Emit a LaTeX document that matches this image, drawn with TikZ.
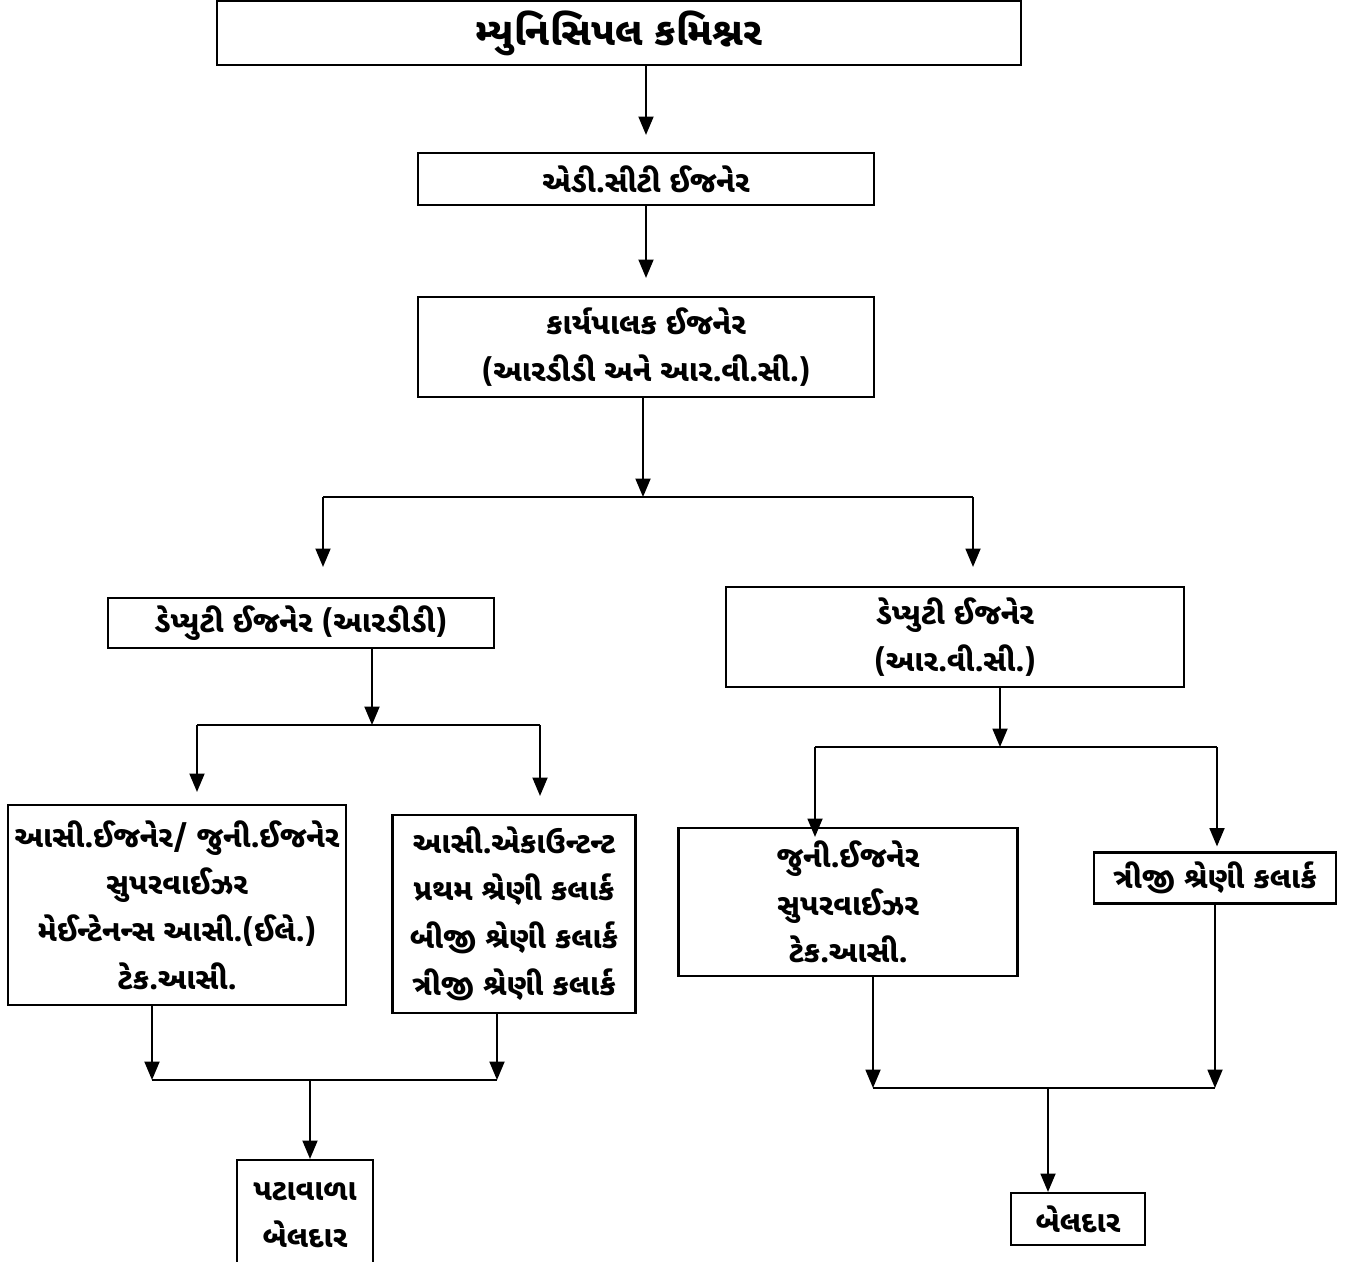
\documentclass[tikz,border=0pt]{standalone}
\usepackage{fontspec}
\setmainfont[Script=Gujarati]{Noto Sans Gujarati UI}
\usetikzlibrary{arrows.meta,positioning,calc}

\tikzset{
  box/.style={draw, line width=1.2pt, inner sep=0pt, align=center, font=\bfseries\fontsize{17}{27}\selectfont},
  arr/.style={line width=1.2pt, -{Triangle[length=10.5pt,width=8.5pt]}},
  ln/.style={line width=1.2pt},
}

\begin{document}
\begin{tikzpicture}[x=0.02cm, y=-0.02cm]
    \useasboundingbox (0,0) rectangle (1362,1261);
    \clip (0,0) rectangle (1362,1261);

    % boxes, placed at pixel coordinates of the chart
    \node[box, minimum width=16.08cm, minimum height=1.28cm, font=\bfseries\fontsize{22}{28}\selectfont] (mc) at (619,33) {મ્યુનિસિપલ કમિશ્નર};
    \node[box, minimum width=9.12cm, minimum height=1.04cm] (ace) at (646,179) {એડી.સીટી ઈજનેર};
    \node[box, minimum width=9.12cm, minimum height=2cm] (ee) at (646,347) {કાર્યપાલક ઈજનેર\\(આરડીડી અને આર.વી.સી.)};
    \node[box, minimum width=7.72cm, minimum height=1cm] (drdd) at (301,623) {ડેપ્યુટી ઈજનેર (આરડીડી)};
    \node[box, minimum width=9.16cm, minimum height=2cm] (drvc) at (955,637) {ડેપ્યુટી ઈજનેર\\(આર.વી.સી.)};
    \node[box, minimum width=6.76cm, minimum height=4cm] (aje) at (177,905) {આસી.ઈજનેર/ જુની.ઈજનેર\\સુપરવાઈઝર\\મેઈન્ટેનન્સ આસી.(ઈલે.)\\ટેક.આસી.};
    \node[box, minimum width=4.86cm, minimum height=3.96cm] (acc) at (514,914) {આસી.એકાઉન્ટન્ટ\\પ્રથમ શ્રેણી કલાર્ક\\બીજી શ્રેણી કલાર્ક\\ત્રીજી શ્રેણી કલાર્ક};
    \node[box, minimum width=2.72cm, minimum height=2.2cm] (pb) at (305,1215) {પટાવાળા\\બેલદાર};
    \node[box, minimum width=6.78cm, minimum height=2.96cm] (jes) at (848,902) {જુની.ઈજનેર\\સુપરવાઈઝર\\ટેક.આસી.};
    \node[box, minimum width=4.84cm, minimum height=1.02cm] (tsc) at (1215,878) {ત્રીજી શ્રેણી કલાર્ક};
    \node[box, minimum width=2.68cm, minimum height=1.04cm] (bel) at (1078,1219) {બેલદાર};

    % junctions of the branch lines
    \coordinate (j1) at (643,497);  \coordinate (j1l) at (323,497);  \coordinate (j1r) at (973,497);
    \coordinate (j2) at (372,725);  \coordinate (j2l) at (197,725);  \coordinate (j2r) at (540,725);
    \coordinate (j3) at (1000,747); \coordinate (j3l) at (815,747);  \coordinate (j3r) at (1217,747);
    \coordinate (j4) at (310,1080); \coordinate (j4l) at (152,1080); \coordinate (j4r) at (497,1080);
    \coordinate (j5) at (1048,1088);\coordinate (j5l) at (873,1088); \coordinate (j5r) at (1215,1088);

    % top chain
    \draw[arr,shorten >=0.34cm] (ace.north |- mc.south) -- (ace.north);
    \draw[arr,shorten >=0.36cm] (ace.south) -- (ee.north);
    \draw[arr] (ee.south -| j1) -- (j1);
    \draw[ln] (j1l) -- (j1r);
    \draw[arr,shorten >=0.6cm] (j1l) -- (j1l |- drdd.north);   % to deputy (RDD)
    \draw[arr,shorten >=0.38cm] (j1r) -- (j1r |- drvc.north);  % to deputy (RVC)

    % left branch
    \draw[arr] (drdd.south -| j2) -- (j2);
    \draw[ln] (j2l) -- (j2r);
    \draw[arr,shorten >=0.24cm] (j2l) -- (j2l |- aje.north);
    \draw[arr,shorten >=0.36cm] (j2r) -- (j2r |- acc.north);
    \draw[arr] (aje.south -| j4l) -- (j4l);
    \draw[arr] (acc.south -| j4r) -- (j4r);
    \draw[ln] (j4l) -- (j4r);
    \draw[arr] (j4) -- (j4 |- pb.north);

    % right branch
    \draw[arr] (drvc.south -| j3) -- (j3);
    \draw[ln] (j3l) -- (j3r);
    \draw[arr,shorten >=-0.2cm] (j3l) -- (j3l |- jes.north);
    \draw[arr,shorten >=0.1cm] (j3r) -- (j3r |- tsc.north);
    \draw[arr] (jes.south -| j5l) -- (j5l);
    \draw[arr] (tsc.south -| j5r) -- (j5r);
    \draw[ln] (j5l) -- (j5r);
    \draw[arr] (j5) -- (j5 |- bel.north);
\end{tikzpicture}
\end{document}
